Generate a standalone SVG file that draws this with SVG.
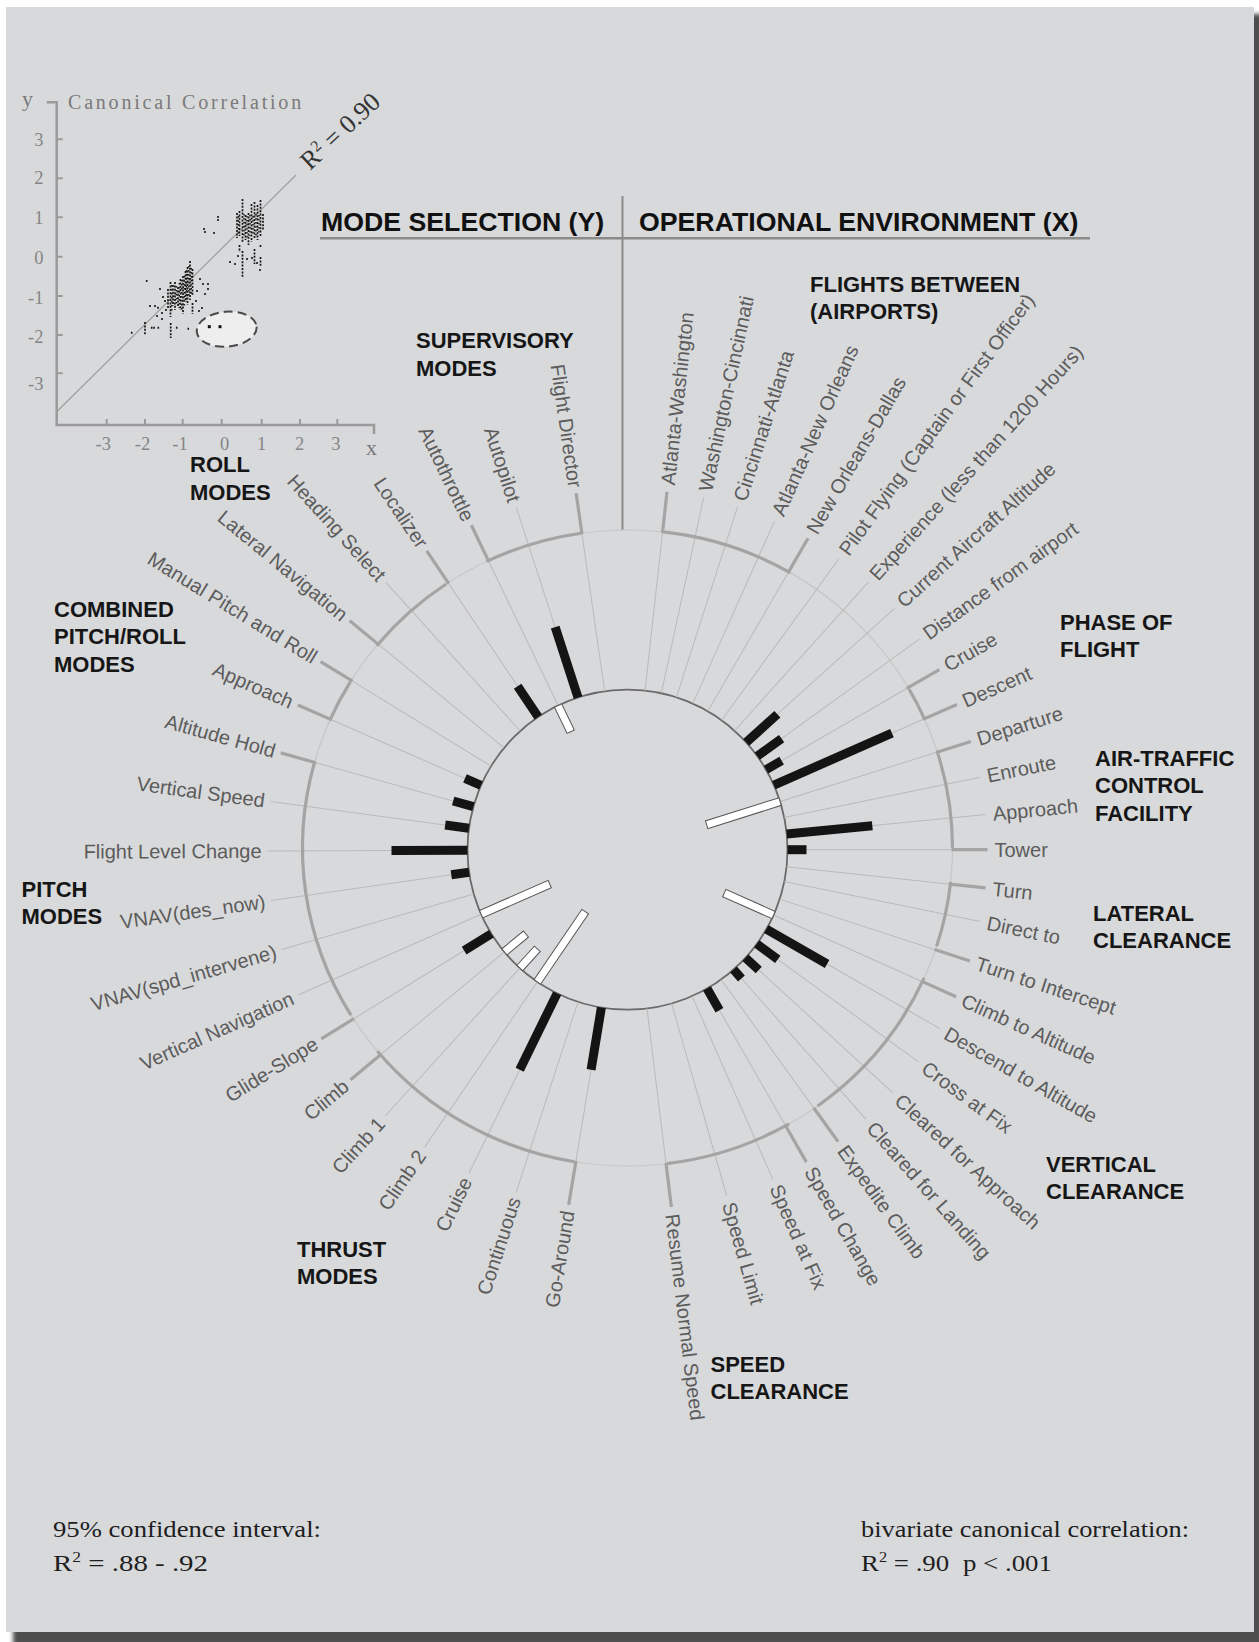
<svg xmlns="http://www.w3.org/2000/svg" width="1259" height="1642" viewBox="0 0 1259 1642">
<defs>
<filter id="sh" x="-2%" y="-2%" width="104%" height="104%"><feGaussianBlur stdDeviation="2"/></filter>
<style>
.lbl{font-family:"Liberation Sans",Arial,sans-serif;font-size:20px;fill:#5c5c5c}
.ll{text-anchor:end}
.cat{font-family:"Liberation Sans",Arial,sans-serif;font-size:22px;font-weight:bold;fill:#161616}
.hd{font-family:"Liberation Sans",Arial,sans-serif;font-size:26.7px;font-weight:bold;fill:#111}
.ser{font-family:"Liberation Serif","Times New Roman",serif}
.sp{stroke:#bababa;stroke-width:1}
.tk{stroke:#a4a4a4;stroke-width:3.2}
.br{fill:none;stroke:#a4a4a4;stroke-width:3.2}
.b{fill:#141414}
.w{fill:#ffffff;stroke:#555;stroke-width:1}
.tick{stroke:#9a9a9a;stroke-width:2}
.num{font-family:"Liberation Serif","Times New Roman",serif;font-size:18.5px;fill:#858585}
</style>
</defs>
<rect width="1259" height="1642" fill="#ffffff"/>
<rect x="13" y="14" width="1250" height="1632" fill="#4e4e4e" filter="url(#sh)"/>
<rect x="6" y="7" width="1248" height="1625" fill="#d8d9db"/>

<g id="scatter">
<path d="M46.7 102.3H56.7V425H374V434" fill="none" stroke="#9a9a9a" stroke-width="2.5"/>
<path class="tick" d="M56.7 139.3h6M56.7 178.3h6M56.7 217.3h6M56.7 256.7h6M56.7 296h6M56.7 335h6M56.7 373.3h6M106.7 425v-6M145 425v-6M182.7 425v-6M221.7 425v-6M261.7 425v-6M300 425v-6M337.3 425v-6"/>
<line x1="56.7" y1="411.7" x2="296" y2="175" stroke="#a0a0a0" stroke-width="1.3"/>
<text class="ser" x="22" y="106" font-size="22" fill="#7a7a7a">y</text>
<text class="ser" x="68" y="109" font-size="20" letter-spacing="2.8" fill="#7a7a7a">Canonical Correlation</text>
<g class="num" text-anchor="end">
<text x="43.5" y="146">3</text><text x="43.5" y="184">2</text><text x="43.5" y="223.5">1</text><text x="43.5" y="263.5">0</text><text x="43.5" y="303.5">-1</text><text x="43.5" y="342.5">-2</text><text x="43.5" y="390">-3</text>
</g>
<g class="num" text-anchor="middle">
<text x="103.3" y="450">-3</text><text x="142.5" y="450">-2</text><text x="180" y="450">-1</text><text x="224.7" y="450">0</text><text x="261.7" y="450">1</text><text x="299.5" y="450">2</text><text x="335.8" y="450">3</text>
</g>
<text class="ser" x="366" y="455" font-size="22" fill="#7a7a7a">x</text>
<text class="ser" transform="translate(310 171) rotate(-43)" font-size="26" fill="#333">R<tspan font-size="16" dy="-9">2</tspan><tspan dy="9"> = 0.90</tspan></text>
<path fill="none" stroke="#151515" stroke-width="1.7" stroke-dasharray="2 1.4" d="M237 213V238M239.5 211V236M239.5 245V252M242.5 199V242M242.5 251V278M245.5 215V240M248.5 213V245M251.5 204V242M254.5 202V238M254.5 249V264M257.5 205V240M260.5 200V236M260.5 245V248M260.5 257V266M263 214V230M168 289V308M170.5 282V317M173 285V306M175 282V310M178 287V306M180.5 279V310M183 276V314M185.5 271V302M187.5 267V305M190 261V300M192.5 269V296M192.5 303V314M145 322V335M170.7 323V338"/>
<path fill="none" stroke="#151515" stroke-width="1.4" stroke-dasharray="1.5 2.5" d="M238.5 216V236M244 214V236M247 216V238M250 215V236M253 216V236M256 214V236M259 215V234M171.8 285V312M176.5 286V306M179.3 283V308M181.8 280V310M184.3 276V306M186.5 270V300M188.8 266V298M191.3 268V294"/>
<path fill="none" stroke="#151515" stroke-width="1.6" d="M230 261v2M235 263v2M238 255v2M247 258v2M252 257v2M257 262v2M260 269v2M204 228v2M205 231v2M214 232v2M218 216v2M218 219v2M200 278v2M203 283v2M208 283v2M205 293v2M202 307v2M208 288v2M197 290v2M196 300v2M146.7 280v2M150 305v2M155 305v2M158 306.7v2M165 300v2M157 315v2M162 312v2M131.7 331.7v2M151.7 326.7v2M154 326.7v2M158.3 326.7v2M176.7 326.7v2M188.3 327.7v2M162 318v2M166 309v2M199 310v2M163 296v2M160 288v2"/>
<ellipse cx="226.7" cy="329.2" rx="30" ry="17.5" transform="rotate(-5 226.7 329.2)" fill="#eeeeee" stroke="#4a4a4a" stroke-width="2" stroke-dasharray="9 5"/>
<rect x="207.8" y="325.2" width="3" height="3" fill="#111"/>
<rect x="218.5" y="325.2" width="3" height="3" fill="#111"/>
</g>

<g id="header">
<line x1="320" y1="238.3" x2="1090" y2="238.3" stroke="#8a8a8a" stroke-width="2.6"/>
<line x1="622.5" y1="196" x2="622.5" y2="530" stroke="#8a8a8a" stroke-width="2"/>
<text class="hd" x="321" y="231">MODE SELECTION (Y)</text>
<text class="hd" x="639" y="231">OPERATIONAL ENVIRONMENT (X)</text>
</g>

<g id="categories" class="cat">
<g id="c-supervisory"><text x="416" y="348">SUPERVISORY</text><text x="416" y="376">MODES</text></g>
<g id="c-roll"><text x="190" y="472">ROLL</text><text x="190" y="499.5">MODES</text></g>
<g id="c-combined"><text x="54" y="616.5">COMBINED</text><text x="54" y="644">PITCH/ROLL</text><text x="54" y="671.5">MODES</text></g>
<g id="c-pitch"><text x="21.5" y="896.5">PITCH</text><text x="21.5" y="924">MODES</text></g>
<g id="c-thrust"><text x="297" y="1256.5">THRUST</text><text x="297" y="1284">MODES</text></g>
<g id="c-flights"><text x="810" y="291.5">FLIGHTS BETWEEN</text><text x="810" y="318.5">(AIRPORTS)</text></g>
<g id="c-phase"><text x="1060" y="630">PHASE OF</text><text x="1060" y="657">FLIGHT</text></g>
<g id="c-atc"><text x="1095" y="766">AIR-TRAFFIC</text><text x="1095" y="793.3">CONTROL</text><text x="1095" y="820.7">FACILITY</text></g>
<g id="c-lateral"><text x="1093" y="920.5">LATERAL</text><text x="1093" y="947.5">CLEARANCE</text></g>
<g id="c-vertical"><text x="1046" y="1171.5">VERTICAL</text><text x="1046" y="1199">CLEARANCE</text></g>
<g id="c-speed"><text x="710.5" y="1371.5">SPEED</text><text x="710.5" y="1399">CLEARANCE</text></g>
</g>

<g id="wheel" transform="translate(627.5 849.7)">
<g transform="translate(0 -1.7) scale(1 0.9785)"><circle r="325" fill="none" stroke="#c6c6c6" stroke-width="1.2"/></g>
<circle id="core" r="160" fill="none" stroke="#6a6a6a" stroke-width="1.8"/>

<g id="mode-spokes" class="lbl">
<g id="n-flight-director" transform="rotate(351.8)"><line class="sp" y1="-160" y2="-360"/><line class="tk" y1="-319" y2="-360"/><text class="ll" transform="rotate(90)" x="-366" dy=".35em">Flight Director</text></g>
<g id="n-autopilot" transform="rotate(342)"><line class="sp" y1="-160" y2="-360"/><rect class="b" x="-4.5" y="-234" width="9" height="74"/><text class="ll" transform="rotate(90)" x="-366" dy=".35em">Autopilot</text></g>
<g id="n-autothrottle" transform="rotate(334.3)"><line class="sp" y1="-160" y2="-360"/><line class="tk" y1="-320" y2="-360"/><rect class="w" x="-4" y="-160" width="8" height="29"/><text class="ll" transform="rotate(90)" x="-366" dy=".35em">Autothrottle</text></g>
<g id="n-localizer" transform="rotate(326.1)"><line class="sp" y1="-160" y2="-360"/><line class="tk" y1="-320.5" y2="-360"/><rect class="b" x="-4.5" y="-197" width="9" height="37"/><text class="ll" transform="rotate(90)" x="-366" dy=".35em">Localizer</text></g>
<g id="n-heading-select" transform="rotate(317.9)"><line class="sp" y1="-160" y2="-360"/><text class="ll" transform="rotate(90)" x="-366" dy=".35em">Heading Select</text></g>
<g id="n-lateral-navigation" transform="rotate(309.5)"><line class="sp" y1="-160" y2="-360"/><line class="tk" y1="-322" y2="-360"/><text class="ll" transform="rotate(90)" x="-366" dy=".35em">Lateral Navigation</text></g>
<g id="n-manual-pitch-roll" transform="rotate(301.5)"><line class="sp" y1="-160" y2="-360"/><line class="tk" y1="-322.5" y2="-360"/><text class="ll" transform="rotate(90)" x="-366" dy=".35em">Manual Pitch and Roll</text></g>
<g id="n-approach-mode" transform="rotate(293.7)"><line class="sp" y1="-160" y2="-360"/><line class="tk" y1="-323" y2="-360"/><rect class="b" x="-4.5" y="-177.5" width="9" height="17.5"/><text class="ll" transform="rotate(90)" x="-366" dy=".35em">Approach</text></g>
<g id="n-altitude-hold" transform="rotate(285.6)"><line class="sp" y1="-160" y2="-360"/><line class="tk" y1="-323.5" y2="-360"/><rect class="b" x="-4.5" y="-181" width="9" height="21"/><text class="ll" transform="rotate(90)" x="-366" dy=".35em">Altitude Hold</text></g>
<g id="n-vertical-speed" transform="rotate(277.7)"><line class="sp" y1="-160" y2="-360"/><rect class="b" x="-4.5" y="-184" width="9" height="24"/><text class="ll" transform="rotate(90)" x="-366" dy=".35em">Vertical Speed</text></g>
<g id="n-flight-level-change" transform="rotate(269.8)"><line class="sp" y1="-160" y2="-360"/><rect class="b" x="-4.5" y="-236" width="9" height="76"/><text class="ll" transform="rotate(90)" x="-366" dy=".35em">Flight Level Change</text></g>
<g id="n-vnav-des-now" transform="rotate(261.9)"><line class="sp" y1="-160" y2="-360"/><rect class="b" x="-4.5" y="-178" width="9" height="18"/><text class="ll" transform="rotate(90)" x="-366" dy=".35em">VNAV(des_now)</text></g>
<g id="n-vnav-spd-intervene" transform="rotate(253.9)"><line class="sp" y1="-160" y2="-360"/><text class="ll" transform="rotate(90)" x="-366" dy=".35em">VNAV(spd_intervene)</text></g>
<g id="n-vertical-navigation" transform="rotate(246.2)"><line class="sp" y1="-160" y2="-360"/><rect class="w" x="-4" y="-160" width="8" height="75"/><text class="ll" transform="rotate(90)" x="-366" dy=".35em">Vertical Navigation</text></g>
<g id="n-glide-slope" transform="rotate(238.3)"><line class="sp" y1="-160" y2="-360"/><line class="tk" y1="-321.5" y2="-360"/><rect class="b" x="-4.5" y="-192" width="9" height="32"/><text class="ll" transform="rotate(90)" x="-366" dy=".35em">Glide-Slope</text></g>
<g id="n-climb" transform="rotate(230.3)"><line class="sp" y1="-160" y2="-360"/><line class="tk" y1="-320.5" y2="-360"/><rect class="w" x="-4" y="-160" width="8" height="28"/><text class="ll" transform="rotate(90)" x="-366" dy=".35em">Climb</text></g>
<g id="n-climb-1" transform="rotate(222.3)"><line class="sp" y1="-160" y2="-360"/><rect class="w" x="-4" y="-160" width="8" height="26"/><text class="ll" transform="rotate(90)" x="-366" dy=".35em">Climb 1</text></g>
<g id="n-climb-2" transform="rotate(214.3)"><line class="sp" y1="-160" y2="-360"/><rect class="w" x="-4" y="-160" width="8" height="85"/><text class="ll" transform="rotate(90)" x="-366" dy=".35em">Climb 2</text></g>
<g id="n-cruise-thrust" transform="rotate(206.1)"><line class="sp" y1="-160" y2="-360"/><rect class="b" x="-4.5" y="-245" width="9" height="85"/><text class="ll" transform="rotate(90)" x="-366" dy=".35em">Cruise</text></g>
<g id="n-continuous" transform="rotate(198)"><line class="sp" y1="-160" y2="-360"/><text class="ll" transform="rotate(90)" x="-366" dy=".35em">Continuous</text></g>
<g id="n-go-around" transform="rotate(189.4)"><line class="sp" y1="-160" y2="-360"/><line class="tk" y1="-315.5" y2="-360"/><rect class="b" x="-4.5" y="-223" width="9" height="63"/><text class="ll" transform="rotate(90)" x="-366" dy=".35em">Go-Around</text></g>
</g>

<g id="environment-spokes" class="lbl">
<g id="n-atlanta-washington" transform="rotate(6.3)"><line class="sp" y1="-160" y2="-360"/><line class="tk" y1="-319" y2="-360"/><text transform="rotate(-90)" x="367" dy=".35em">Atlanta-Washington</text></g>
<g id="n-washington-cincinnati" transform="rotate(12.2)"><line class="sp" y1="-160" y2="-360"/><text transform="rotate(-90)" x="367" dy=".35em">Washington-Cincinnati</text></g>
<g id="n-cincinnati-atlanta" transform="rotate(17.8)"><line class="sp" y1="-160" y2="-360"/><text transform="rotate(-90)" x="367" dy=".35em">Cincinnati-Atlanta</text></g>
<g id="n-atlanta-new-orleans" transform="rotate(24.1)"><line class="sp" y1="-160" y2="-360"/><text transform="rotate(-90)" x="367" dy=".35em">Atlanta-New Orleans</text></g>
<g id="n-new-orleans-dallas" transform="rotate(30.1)"><line class="sp" y1="-160" y2="-360"/><line class="tk" y1="-320" y2="-360"/><text transform="rotate(-90)" x="367" dy=".35em">New Orleans-Dallas</text></g>
<g id="n-pilot-flying" transform="rotate(36)"><line class="sp" y1="-160" y2="-360"/><text transform="rotate(-90)" x="367" dy=".35em">Pilot Flying (Captain or First Officer)</text></g>
<g id="n-experience" transform="rotate(42)"><line class="sp" y1="-160" y2="-360"/><text transform="rotate(-90)" x="367" dy=".35em">Experience (less than 1200 Hours)</text></g>
<g id="n-current-altitude" transform="rotate(47.9)"><line class="sp" y1="-160" y2="-360"/><rect class="b" x="-4.5" y="-202" width="9" height="42"/><text transform="rotate(-90)" x="367" dy=".35em">Current Aircraft Altitude</text></g>
<g id="n-distance" transform="rotate(54.2)"><line class="sp" y1="-160" y2="-360"/><rect class="b" x="-4.5" y="-190" width="9" height="30"/><text transform="rotate(-90)" x="367" dy=".35em">Distance from airport</text></g>
<g id="n-cruise-phase" transform="rotate(60)"><line class="sp" y1="-160" y2="-360"/><line class="tk" y1="-322.5" y2="-360"/><rect class="b" x="-4.5" y="-178" width="9" height="18"/><text transform="rotate(-90)" x="367" dy=".35em">Cruise</text></g>
<g id="n-descent" transform="rotate(66.2)"><line class="sp" y1="-160" y2="-360"/><line class="tk" y1="-323" y2="-360"/><rect class="b" x="-4.5" y="-289" width="9" height="129"/><text transform="rotate(-90)" x="367" dy=".35em">Descent</text></g>
<g id="n-departure" transform="rotate(72.5)"><line class="sp" y1="-160" y2="-360"/><line class="tk" y1="-323.5" y2="-360"/><rect class="w" x="-4" y="-160" width="8" height="77"/><text transform="rotate(-90)" x="367" dy=".35em">Departure</text></g>
<g id="n-enroute" transform="rotate(78.4)"><line class="sp" y1="-160" y2="-360"/><text transform="rotate(-90)" x="367" dy=".35em">Enroute</text></g>
<g id="n-approach-facility" transform="rotate(84.4)"><line class="sp" y1="-160" y2="-360"/><rect class="b" x="-4.5" y="-246" width="9" height="86"/><text transform="rotate(-90)" x="367" dy=".35em">Approach</text></g>
<g id="n-tower" transform="rotate(90)"><line class="sp" y1="-160" y2="-360"/><line class="tk" y1="-324" y2="-360"/><rect class="b" x="-4.5" y="-179" width="9" height="19"/><text transform="rotate(-90)" x="367" dy=".35em">Tower</text></g>
<g id="n-turn" transform="rotate(96.1)"><line class="sp" y1="-160" y2="-360"/><line class="tk" y1="-324" y2="-360"/><text transform="rotate(-90)" x="367" dy=".35em">Turn</text></g>
<g id="n-direct-to" transform="rotate(101.5)"><line class="sp" y1="-160" y2="-360"/><text transform="rotate(-90)" x="367" dy=".35em">Direct to</text></g>
<g id="n-turn-to-intercept" transform="rotate(108)"><line class="sp" y1="-160" y2="-360"/><line class="tk" y1="-323" y2="-360"/><text transform="rotate(-90)" x="367" dy=".35em">Turn to Intercept</text></g>
<g id="n-climb-to-altitude" transform="rotate(114.1)"><line class="sp" y1="-160" y2="-360"/><line class="tk" y1="-322.5" y2="-360"/><rect class="w" x="-4" y="-160" width="8" height="54"/><text transform="rotate(-90)" x="367" dy=".35em">Climb to Altitude</text></g>
<g id="n-descend-to-altitude" transform="rotate(119.8)"><line class="sp" y1="-160" y2="-360"/><rect class="b" x="-4.5" y="-230" width="9" height="70"/><text transform="rotate(-90)" x="367" dy=".35em">Descend to Altitude</text></g>
<g id="n-cross-at-fix" transform="rotate(126.1)"><line class="sp" y1="-160" y2="-360"/><rect class="b" x="-4.5" y="-186" width="9" height="26"/><text transform="rotate(-90)" x="367" dy=".35em">Cross at Fix</text></g>
<g id="n-cleared-for-approach" transform="rotate(132.5)"><line class="sp" y1="-160" y2="-360"/><rect class="b" x="-4.5" y="-178" width="9" height="18"/><text transform="rotate(-90)" x="367" dy=".35em">Cleared for Approach</text></g>
<g id="n-cleared-for-landing" transform="rotate(138.5)"><line class="sp" y1="-160" y2="-360"/><rect class="b" x="-4.5" y="-172" width="9" height="12"/><text transform="rotate(-90)" x="367" dy=".35em">Cleared for Landing</text></g>
<g id="n-expedite-climb" transform="rotate(144.2)"><line class="sp" y1="-160" y2="-360"/><line class="tk" y1="-318.5" y2="-360"/><text transform="rotate(-90)" x="367" dy=".35em">Expedite Climb</text></g>
<g id="n-speed-change" transform="rotate(150.2)"><line class="sp" y1="-160" y2="-360"/><line class="tk" y1="-317.5" y2="-360"/><rect class="b" x="-4.5" y="-185" width="9" height="25"/><text transform="rotate(-90)" x="367" dy=".35em">Speed Change</text></g>
<g id="n-speed-at-fix" transform="rotate(156.2)"><line class="sp" y1="-160" y2="-360"/><text transform="rotate(-90)" x="367" dy=".35em">Speed at Fix</text></g>
<g id="n-speed-limit" transform="rotate(164)"><line class="sp" y1="-160" y2="-360"/><text transform="rotate(-90)" x="367" dy=".35em">Speed Limit</text></g>
<g id="n-resume-normal-speed" transform="rotate(173)"><line class="sp" y1="-160" y2="-360"/><line class="tk" y1="-315.5" y2="-360"/><text transform="rotate(-90)" x="367" dy=".35em">Resume Normal Speed</text></g>
</g>

<g id="brackets" transform="translate(0 -1.7) scale(1 0.9785)">
<circle class="br" r="325" pathLength="360" stroke-dasharray="17.5 360" transform="rotate(244.3)"/>
<circle class="br" r="325" pathLength="360" stroke-dasharray="16.6 360" transform="rotate(219.5)"/>
<circle class="br" r="325" pathLength="360" stroke-dasharray="7.8 360" transform="rotate(203.7)"/>
<circle class="br" r="325" pathLength="360" stroke-dasharray="47.3 360" transform="rotate(148.3)"/>
<circle class="br" r="325" pathLength="360" stroke-dasharray="40.9 360" transform="rotate(99.4)"/>
<circle class="br" r="325" pathLength="360" stroke-dasharray="23.8 360" transform="rotate(-83.7)"/>
<circle class="br" r="325" pathLength="360" stroke-dasharray="6.2 360" transform="rotate(-30)"/>
<circle class="br" r="325" pathLength="360" stroke-dasharray="17.5 360" transform="rotate(-17.5)"/>
<circle class="br" r="325" pathLength="360" stroke-dasharray="11.9 360" transform="rotate(6.1)"/>
<circle class="br" r="325" pathLength="360" stroke-dasharray="30.1 360" transform="rotate(24.1)"/>
<circle class="br" r="325" pathLength="360" stroke-dasharray="22.8 360" transform="rotate(60.2)"/>
</g>
</g>

<g id="footer" class="ser" fill="#1e1e1e" font-size="23">
<text x="53" y="1537" textLength="268" lengthAdjust="spacingAndGlyphs">95% confidence interval:</text>
<text x="53" y="1571" textLength="155" lengthAdjust="spacingAndGlyphs">R<tspan font-size="14" dy="-9">2</tspan><tspan dy="9"> = .88 - .92</tspan></text>
<text x="861" y="1537" textLength="328" lengthAdjust="spacingAndGlyphs">bivariate canonical correlation:</text>
<text x="861" y="1571" textLength="191" lengthAdjust="spacingAndGlyphs">R<tspan font-size="14" dy="-9">2</tspan><tspan dy="9"> = .90 </tspan><tspan dx="6">p &lt; .001</tspan></text>
</g>
</svg>
